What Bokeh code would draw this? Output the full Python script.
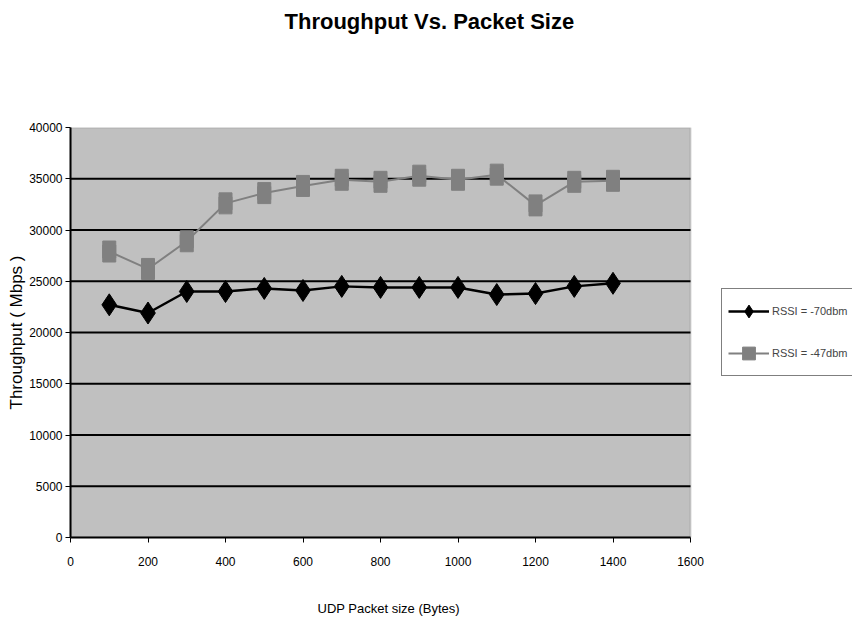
from bokeh.plotting import figure
from bokeh.models import Legend, LegendItem, Range1d, FixedTicker, Title, BoxAnnotation
from bokeh.embed import file_html
from bokeh.resources import INLINE

packet_size = [100, 200, 300, 400, 500, 600, 700, 800, 900, 1000, 1100, 1200, 1300, 1400]
rssi_70 = [22700, 21900, 24000, 24000, 24300, 24100, 24500, 24400, 24400, 24400, 23700, 23800, 24500, 24800]
rssi_47 = [27900, 26200, 28900, 32600, 33600, 34300, 34900, 34700, 35300, 34900, 35400, 32400, 34700, 34800]
x_ticks = [0, 200, 400, 600, 800, 1000, 1200, 1400, 1600]
y_ticks = [0, 5000, 10000, 15000, 20000, 25000, 30000, 35000, 40000]

FONT = "Liberation Sans"
W, H = 852, 630
LEFT, PLOT_W = 70, 620   # plot area spans 620 px; the frame extends to the right edge to hold the legend

x_min, x_max = x_ticks[0], x_ticks[-1]
y_min, y_max = y_ticks[0], y_ticks[-1]

p = figure(width=W, height=H, output_backend="svg", toolbar_location=None,
           x_range=Range1d(x_min, x_min + (x_max - x_min) * (W - LEFT) / PLOT_W),
           y_range=Range1d(y_min, y_max),
           min_border_left=LEFT, min_border_right=0, min_border_top=127, min_border_bottom=93)
p.outline_line_color = None
p.background_fill_color = "white"
p.border_fill_color = "white"
p.title.text = ""

# spacer (closest to the frame) then the title above it
p.add_layout(Title(text=" ", text_font_size="1px", standoff=91), "above")
p.add_layout(Title(text="Throughput Vs. Packet Size", align="left", offset=214,
                   text_font=FONT, text_font_size="22px", text_font_style="bold",
                   text_color="black", standoff=0), "above")

# gray plot area
p.add_layout(BoxAnnotation(left=x_min, right=x_max, bottom=y_min, top=y_max,
                           fill_color="#C0C0C0", fill_alpha=1.0,
                           line_color="#808080", line_width=2, level="underlay"))

p.xgrid.grid_line_color = None
p.ygrid.grid_line_color = None
grid_y = y_ticks[1:-1]
p.segment(x0=[x_min] * len(grid_y), x1=[x_max] * len(grid_y), y0=grid_y, y1=grid_y,
          line_color="black", line_width=2)

xax = p.xaxis[0]
yax = p.yaxis[0]
xax.ticker = FixedTicker(ticks=x_ticks)
yax.ticker = FixedTicker(ticks=y_ticks)
xax.bounds = (x_min, x_max)
for ax in (xax, yax):
    ax.axis_line_color = "black"
    ax.axis_line_width = 2
    ax.major_tick_line_color = "black"
    ax.major_tick_line_width = 1
    ax.major_tick_out = 5
    ax.major_tick_in = 0
    ax.minor_tick_line_color = None
    ax.major_label_text_font = FONT
    ax.major_label_text_font_size = "12px"
    ax.major_label_text_color = "black"
    ax.axis_label_text_font = FONT
    ax.axis_label_text_font_style = "normal"
    ax.axis_label_text_color = "black"

xax.major_label_standoff = 14
yax.axis_label = "Throughput ( Mbps )"
yax.axis_label_text_font_size = "17px"
yax.major_label_standoff = 3
yax.axis_label_standoff = 0

# x-axis title, centred under the plot area (not the extended frame)
p.add_layout(Title(text=" ", text_font_size="1px", standoff=29), "below")
p.add_layout(Title(text="UDP Packet size (Bytes)", align="left", offset=247, vertical_align="top",
                   text_font=FONT, text_font_size="13px", text_font_style="normal",
                   text_color="black", standoff=0), "below")

l1 = p.line(packet_size, rssi_70, line_color="black", line_width=2.5)
m1 = p.scatter(packet_size, rssi_70, marker="diamond", size=22, fill_color="black", line_color="black")
l2 = p.line(packet_size, rssi_47, line_color="#808080", line_width=2)
m2 = p.scatter(packet_size, rssi_47, marker="square", size=13, fill_color="#808080", line_color="#808080")
p.rect(packet_size, rssi_47, width=13, height=21, width_units="screen", height_units="screen",
       fill_color="#808080", line_color="#808080")

legend = Legend(items=[LegendItem(label="RSSI = -70dbm", renderers=[l1, m1]),
                       LegendItem(label="RSSI = -47dbm", renderers=[l2, m2])],
                location=(651, 161))
legend.label_text_font = FONT
legend.label_text_font_size = "11px"
legend.label_standoff = 3
legend.border_line_color = "black"
legend.border_line_width = 1.5
legend.background_fill_color = "white"
legend.background_fill_alpha = 1
legend.glyph_width = 41
legend.glyph_height = 32
legend.label_height = 32
legend.spacing = 10
legend.padding = 6
legend.margin = 0
p.add_layout(legend, "center")

open("out.html", "w").write(file_html(p, INLINE))
